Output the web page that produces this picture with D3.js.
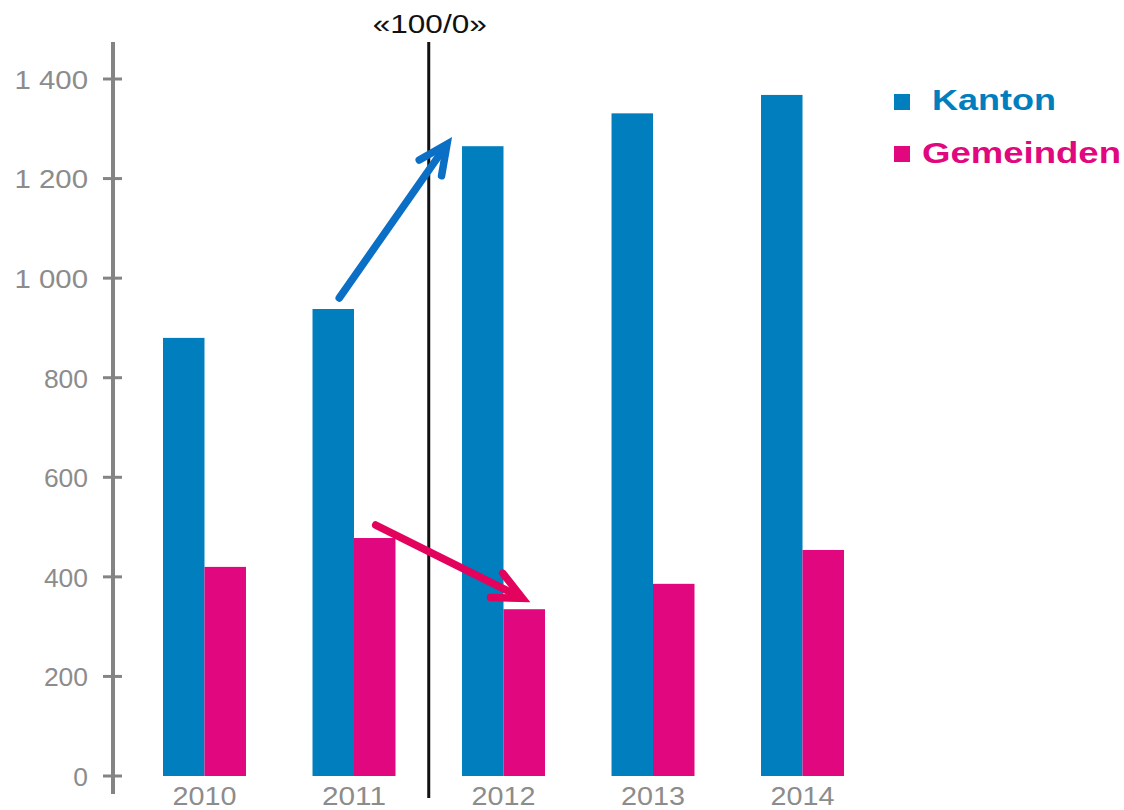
<!DOCTYPE html>
<html>
<head>
<meta charset="utf-8">
<script src="https://cdn.jsdelivr.net/npm/d3@7"></script>
<style>
  html, body { margin: 0; padding: 0; background: #fff; }
  svg { display: block; font-family: "Liberation Sans", Arial, sans-serif; }
</style>
</head>
<body>
<svg id="chart" width="1124" height="810"></svg>
<script>
// Years on the category axis
const years = ["2010", "2011", "2012", "2013", "2014"];
// Series values per year
const kanton = [880, 938, 1265, 1331, 1368];
const gemeinden = [420, 478, 335, 386, 454];
// Series names
const seriesNames = ["Kanton", "Gemeinden"];
// Y axis ticks and their labels
const yTicks = [0, 200, 400, 600, 800, 1000, 1200, 1400];
const yTickLabels = ["0", "200", "400", "600", "800", "1 000", "1 200", "1 400"];
// Marker text above the break line
const breakLabel = "«100/0»";

const colors = { Kanton: "#007ebd", Gemeinden: "#e0077f" };
const arrowColors = { Kanton: "#0b6fc6", Gemeinden: "#e3035c" };

const svg = d3.select("#chart");

const y = d3.scaleLinear().domain([0, 1400]).range([776, 79]);
const x0 = d3.scaleBand().domain(years).range([163, 844]).paddingInner(0.445).paddingOuter(0);
const x1 = d3.scaleBand().domain(seriesNames).range([0, x0.bandwidth()]).padding(0);

const rows = years.map((yr, i) => ({ year: yr, Kanton: kanton[i], Gemeinden: gemeinden[i] }));

// Bars
const groups = svg.append("g").selectAll("g").data(rows).join("g")
  .attr("transform", d => `translate(${x0(d.year)},0)`);
groups.selectAll("rect")
  .data(d => seriesNames.map(k => ({ key: k, value: d[k] })))
  .join("rect")
  .attr("x", d => x1(d.key))
  .attr("width", x1.bandwidth())
  .attr("y", d => y(d.value))
  .attr("height", d => y(0) - y(d.value))
  .attr("fill", d => colors[d.key]);

// Y axis
const axisX = 113;
const yAxis = d3.axisLeft(y).tickValues(yTicks)
  .tickFormat((d, i) => yTickLabels[i]).tickSize(0).tickPadding(25);
const ya = svg.append("g").attr("transform", `translate(${axisX},0)`).call(yAxis);
ya.select(".domain").remove();
ya.selectAll("text")
  .attr("fill", "#8c8c8c")
  .attr("font-size", 26)
  .attr("dy", "0.36em")
  .attr("textLength", (d, i) => yTickLabels[i].length * 14.7)
  .attr("lengthAdjust", "spacingAndGlyphs");
svg.append("line")
  .attr("x1", axisX).attr("x2", axisX).attr("y1", 42).attr("y2", 794)
  .attr("stroke", "#848484").attr("stroke-width", 4);
svg.append("g").selectAll("line").data(yTicks).join("line")
  .attr("x1", axisX - 10).attr("x2", axisX + 9)
  .attr("y1", d => y(d)).attr("y2", d => y(d))
  .attr("stroke", "#848484").attr("stroke-width", 3);

// X axis labels
const xAxis = d3.axisBottom(x0).tickSize(0).tickPadding(0);
const xa = svg.append("g").attr("transform", `translate(0,${y(0)})`).call(xAxis);
xa.select(".domain").remove();
xa.selectAll("text")
  .attr("fill", "#8c8c8c")
  .attr("font-size", 26)
  .attr("dy", "1.1em")
  .attr("textLength", 64)
  .attr("lengthAdjust", "spacingAndGlyphs");

// Break line between 2011 and 2012
const breakX = (x0("2011") + x0.bandwidth() + x0("2012")) / 2;
svg.append("line")
  .attr("x1", breakX).attr("x2", breakX).attr("y1", 42).attr("y2", 798)
  .attr("stroke", "#111").attr("stroke-width", 3);
svg.append("text")
  .attr("x", breakX + 1).attr("y", 33)
  .attr("text-anchor", "middle")
  .attr("font-size", 25)
  .attr("fill", "#111")
  .attr("textLength", 114)
  .attr("lengthAdjust", "spacingAndGlyphs")
  .text(breakLabel);

// Change arrows from 2011 to 2012
function arrow(key, from, to, startDx, endDx, startDy, endDy) {
  const x1a = x0(from) + x1(key) + x1.bandwidth() / 2 + startDx;
  const y1a = y(rows.find(r => r.year === from)[key]) + startDy;
  const x2a = x0(to) + x1(key) + endDx;
  const y2a = y(rows.find(r => r.year === to)[key]) + endDy;
  const ang = Math.atan2(y2a - y1a, x2a - x1a);
  const head = 32, spread = 0.44;
  const g = svg.append("g")
    .attr("stroke", arrowColors[key]).attr("stroke-width", 7.5)
    .attr("stroke-linecap", "round").attr("fill", "none");
  g.append("line").attr("x1", x1a).attr("y1", y1a).attr("x2", x2a - 3 * Math.cos(ang)).attr("y2", y2a - 3 * Math.sin(ang));
  g.append("path").attr("stroke-linejoin", "miter").attr("d",
    `M${x2a - head * Math.cos(ang - spread)},${y2a - head * Math.sin(ang - spread)}` +
    `L${x2a},${y2a}` +
    `L${x2a - head * Math.cos(ang + spread)},${y2a - head * Math.sin(ang + spread)}`);
}
arrow("Kanton", "2011", "2012", 6, -15, -11, -2);
arrow("Gemeinden", "2011", "2012", 1, 19, -13, -11);

// Legend
const legend = svg.append("g");
const legendRows = [
  { key: "Kanton", sy: 94, tx: 932, ty: 110, len: 124 },
  { key: "Gemeinden", sy: 146, tx: 922, ty: 163, len: 199 }
];
legend.selectAll("rect").data(legendRows).join("rect")
  .attr("x", 894).attr("y", d => d.sy).attr("width", 16).attr("height", 16)
  .attr("fill", d => colors[d.key]);
legend.selectAll("text").data(legendRows).join("text")
  .attr("x", d => d.tx).attr("y", d => d.ty)
  .attr("font-size", 29).attr("font-weight", "bold")
  .attr("fill", d => colors[d.key])
  .attr("textLength", d => d.len).attr("lengthAdjust", "spacingAndGlyphs")
  .text(d => d.key);
</script>
</body>
</html>
